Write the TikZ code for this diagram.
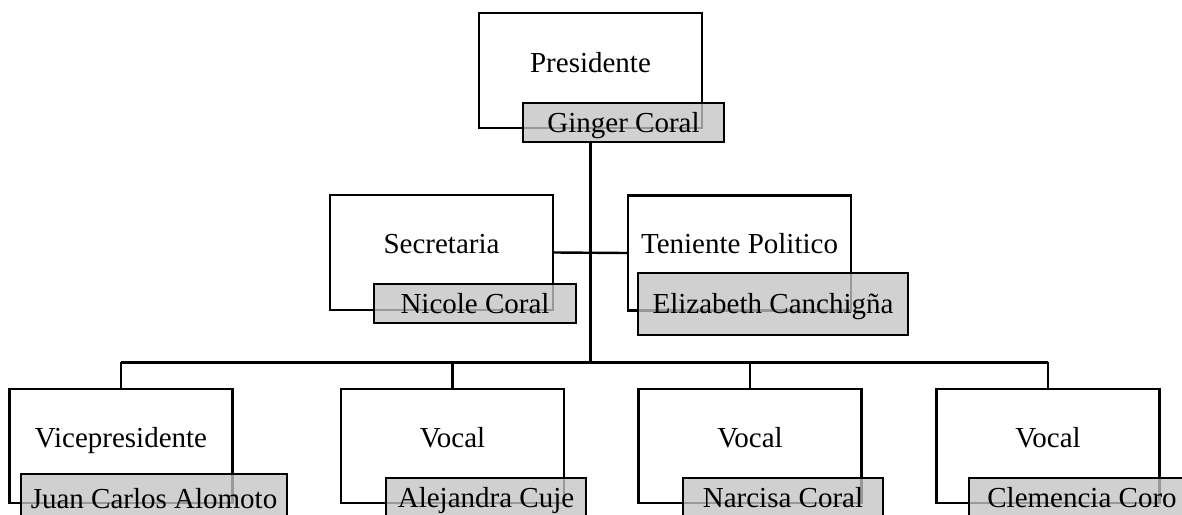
\documentclass[tikz,border=0pt]{standalone}
\usepackage{fontspec}
\setmainfont{Liberation Serif}
\usepackage{tikz}
\usetikzlibrary{positioning,calc}
\tikzstyle{cargo} = [draw,line width=2.2pt,fill=white,inner sep=0pt,minimum width=223pt,minimum height=115pt]
\tikzstyle{nombre} = [draw,line width=2.2pt,fill=black!23,fill opacity=0.78,text opacity=1,inner sep=0pt,minimum height=39pt,text height=19pt,text depth=0pt]
\tikzstyle{rol} = [inner sep=0pt,text height=19pt,text depth=0pt]
\tikzstyle{linea} = [line width=2.4pt]
\tikzstyle{tronco} = [line width=3pt]
\tikzset{every node/.style={font=\fontsize{29}{34}\selectfont}}

\begin{document}
\begin{tikzpicture}[x=1pt,y=-1pt]
    \useasboundingbox (0,0) rectangle (1182,514);
    \clip (0,0) rectangle (1182,514);
    % cargos
    \node [cargo] (pres) at (590.5,70.5) {};
    \node [cargo] (sec) at (441.5,252.5) {};
    \node [cargo] (ten) at (739.5,253) {};
    \node [cargo,minimum height=114pt] (vice) at (121,446) {};
    \node [cargo,minimum height=114pt] (voc2) at (452.5,446) {};
    \node [cargo,minimum height=114pt] (voc3) at (750,446) {};
    \node [cargo,minimum height=114pt] (voc4) at (1048,446) {};
    \node [rol] (presT) at ($(pres.north)+(0,51)$) {Presidente};
    \node [rol] (secT) at ($(sec.north)+(0,50)$) {Secretaria};
    \node [rol] (tenT) at ($(ten.north)+(0,50)$) {Teniente Politico};
    \node [rol] (viceT) at ($(vice.north)+(0,50)$) {Vicepresidente};
    \node [rol] (voc2T) at ($(voc2.north)+(0,50)$) {Vocal};
    \node [rol] (voc3T) at ($(voc3.north)+(0,50)$) {Vocal};
    \node [rol] (voc4T) at ($(voc4.north)+(0,50)$) {Vocal};
    % nombres
    \node [nombre,minimum width=201pt] (ginger) at (623.5,122.5) {Ginger Coral};
    \node [nombre,minimum width=202pt] (nicole) at (475,303.5) {Nicole Coral};
    \node [nombre,minimum width=270pt,minimum height=62pt] (eliz) at (773,304) {Elizabeth Canchigña};
    \node [nombre,minimum width=266pt,minimum height=49pt] (juan) at (154,498.5) {Juan Carlos Alomoto};
    \node [nombre,minimum width=200pt] (alej) at (486,497.5) {Alejandra Cuje};
    \node [nombre,minimum width=200pt] (narc) at (783,497.5) {Narcisa Coral};
    \node [nombre,minimum width=226pt] (clem) at (1082,497.5) {Clemencia Coro};
    % conexiones
    \coordinate (bus) at (590.5,362);
    \draw [tronco] (pres.center |- ginger.south) -- (bus);
    \draw [linea] (sec.east) -- (ten.west);
    \draw [tronco] (vice.north |- bus) -- (voc4.north |- bus);
    \draw [linea] (vice.north) -- (vice.north |- bus);
    \draw [linea] (voc2.north) -- (voc2.north |- bus);
    \draw [linea] (voc3.north) -- (voc3.north |- bus);
    \draw [linea] (voc4.north) -- (voc4.north |- bus);
\end{tikzpicture}
\end{document}
